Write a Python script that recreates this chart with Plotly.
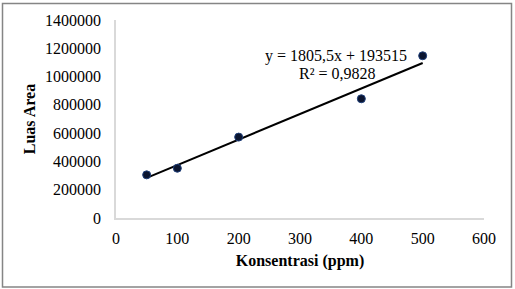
import plotly.graph_objects as go

# Data
konsentrasi = [50, 100, 200, 400, 500]
luas_area = [305000, 352000, 572000, 843000, 1147000]

# Trendline coefficients (as displayed)
slope = 1805.5
intercept = 193515
r2_text = "R² = 0,9828"
eq_text = "y = 1805,5x + 193515"

x_ticks = [0, 100, 200, 300, 400, 500, 600]
y_ticks = [0, 200000, 400000, 600000, 800000, 1000000, 1200000, 1400000]

trend_x = [min(konsentrasi), max(konsentrasi)]
trend_y = [slope * v + intercept for v in trend_x]

FONT = "Liberation Serif, Times New Roman, serif"

fig = go.Figure()
fig.add_trace(go.Scatter(
    x=trend_x, y=trend_y, mode="lines",
    line=dict(color="black", width=2), showlegend=False, hoverinfo="skip"))
fig.add_trace(go.Scatter(
    x=konsentrasi, y=luas_area, mode="markers",
    marker=dict(size=8, color="#0b1530", line=dict(color="#1f3f7a", width=1)),
    showlegend=False))

W, H = 515, 289
ml, mr, mt, mb = 116, 31, 20, 71
pw, ph = W - ml - mr, H - mt - mb

def px(xp):
    return (xp - ml) / pw

def py(yp):
    return (H - mb - yp) / ph

fig.add_shape(type="rect", xref="paper", yref="paper",
              x0=px(2.5), x1=px(511.5), y0=py(287), y1=py(3.5),
              line=dict(color="#858585", width=1.5), layer="below")

fig.add_annotation(x=px(336), y=py(45), xref="paper", yref="paper",
                   text=eq_text, showarrow=False,
                   font=dict(family=FONT, size=16, color="black"))
fig.add_annotation(x=px(337), y=py(63), xref="paper", yref="paper",
                   text=r2_text, showarrow=False,
                   font=dict(family=FONT, size=16, color="black"))

fig.update_layout(
    width=W, height=H,
    margin=dict(l=ml, r=mr, t=mt, b=mb),
    paper_bgcolor="white", plot_bgcolor="white",
    font=dict(family=FONT, size=16, color="black"),
    xaxis=dict(
        range=[0, 600], tickvals=x_ticks, ticktext=[str(v) for v in x_ticks],
        showgrid=False, zeroline=False, showline=True, linecolor="#d9d9d9",
        linewidth=1.5, ticks="", ticklabelstandoff=5,
        title=dict(text="<b>Konsentrasi (ppm)</b>", standoff=9,
                   font=dict(family=FONT, size=16)),
    ),
    yaxis=dict(
        range=[0, 1400000], tickvals=y_ticks, ticktext=[str(v) for v in y_ticks],
        showgrid=False, zeroline=False, showline=True, linecolor="#d9d9d9",
        linewidth=1.5, ticks="", ticklabelstandoff=10,
        title=dict(text="<b>Luas Area</b>", standoff=5,
                   font=dict(family=FONT, size=16)),
    ),
)

fig.write_html("out.html")
